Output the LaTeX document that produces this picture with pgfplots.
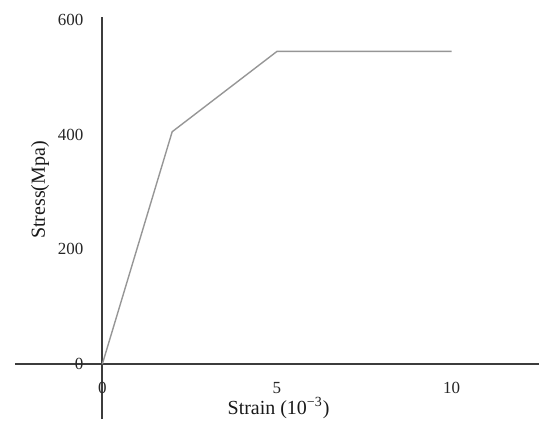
\documentclass[border=0pt]{standalone}
\usepackage{fontspec}
\setmainfont{Liberation Serif}
\usepackage{pgfplots}
\pgfplotsset{compat=1.18}
\definecolor{axisgray}{RGB}{60,60,60}
\definecolor{curvegray}{RGB}{150,150,150}

\begin{document}
\begin{tikzpicture}
\begin{axis}[
    name=ax,
    scale only axis,
    width=262.5pt, height=201.5pt,
    axis lines=middle,
    axis line style={-, axisgray, line width=1pt},
    xmin=-2.5, xmax=12.5,
    ymin=-96, ymax=605,
    xtick={0,5,10}, ytick={0,200,400,600},
    hide obscured x ticks=false, hide obscured y ticks=false,
    major tick length=0pt,
    tick label style={font=\fontsize{8.5}{10}\selectfont, text=black!85},
    /pgf/number format/assume math mode=true,
    xticklabel style={anchor=center, yshift=-12pt},
    yticklabel style={anchor=east, xshift=-6pt},
    xlabel={Strain (10\textsuperscript{−3})},
    ylabel={Stress(Mpa)},
    label style={font=\fontsize{10}{12}\selectfont, text=black!90},
    xlabel style={at={(rel axis cs:0.503,0.028)}, anchor=center},
    ylabel style={at={(rel axis cs:0.048,0.57)}, anchor=center, rotate=90},
    clip=false,
]
\addplot[curvegray, line width=0.7pt] coordinates {
    (0,0) (2,405) (5,545) (10,545)
};
\end{axis}
% page margins as in the reference
\path ([shift={(-7.5pt,-3.5pt)}]ax.south west) ([shift={(0pt,8.5pt)}]ax.north east);
\end{tikzpicture}
\end{document}
